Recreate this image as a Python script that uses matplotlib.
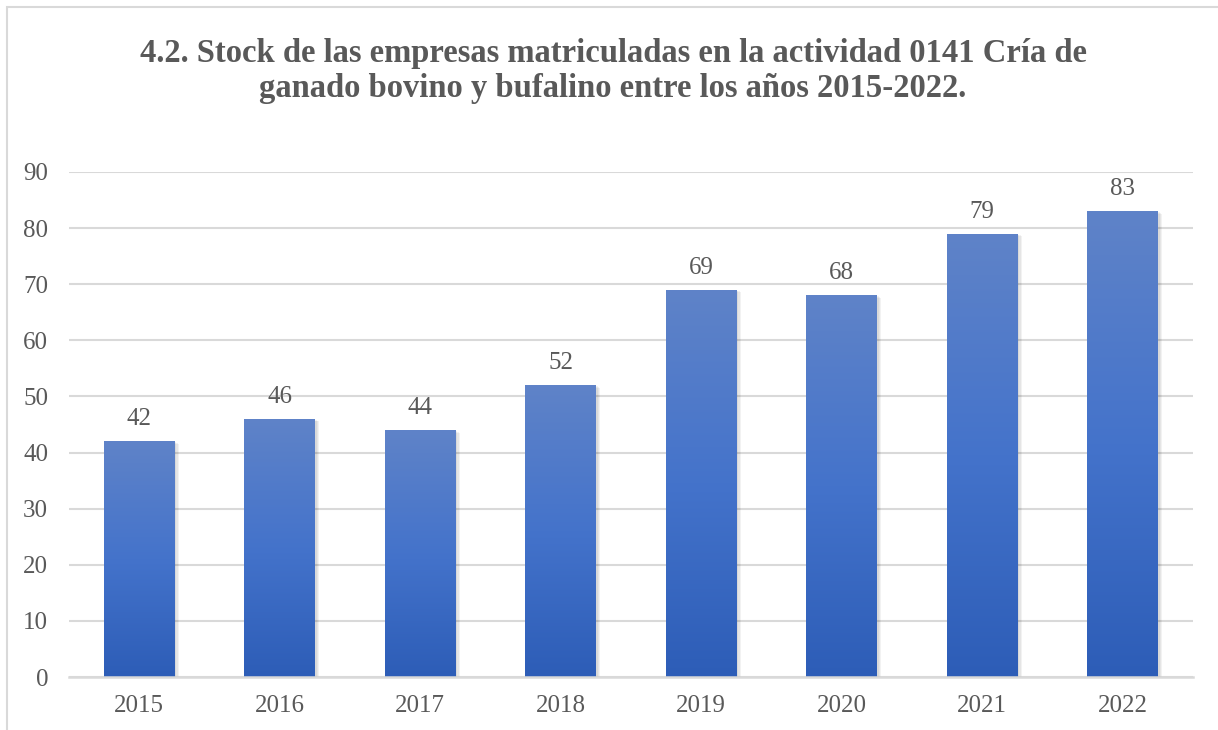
import matplotlib
matplotlib.use("Agg")
import matplotlib.pyplot as plt
import numpy as np
from matplotlib import patheffects as pe
from matplotlib.colors import LinearSegmentedColormap
from matplotlib.patches import Rectangle

years = ["2015", "2016", "2017", "2018", "2019", "2020", "2021", "2022"]
values = [42, 46, 44, 52, 69, 68, 79, 83]
title = ("4.2. Stock de las empresas matriculadas en la actividad 0141 Cría de\n"
         "ganado bovino y bufalino entre los años 2015-2022.")

plt.rcParams['font.family'] = ['Liberation Serif', 'DejaVu Serif']
text_color = "#595959"
grid_color = "#D9D9D9"

fig = plt.figure(figsize=(12.18, 7.30), dpi=100)
fig.patch.set_facecolor("white")

# outer chart border
fig.add_artist(Rectangle((7 / 1218, -0.1), 1.2, 1 - 7 / 730 + 0.1,
                         transform=fig.transFigure, fill=False,
                         edgecolor="#D9D9D9", linewidth=1.5))

ax = fig.add_axes([69 / 1218, 1 - 677 / 730, (1193 - 69) / 1218, (677 - 172) / 730])
x = np.arange(len(years))
shadow = [pe.SimplePatchShadow(offset=(o, -o * 0.6), shadow_rgbFace="#000000", alpha=0.05)
          for o in (1.0, 2.0, 3.0)]
bars = ax.bar(x, values, width=0.505, color="#4472C4", zorder=3,
              path_effects=shadow + [pe.Normal()])

cmap = LinearSegmentedColormap.from_list("g", ["#2D5DB7", "#4473CB", "#5F83C8"])
grad = np.linspace(0, 1, 256).reshape(-1, 1)
for b in bars:
    x0, y0 = b.get_x(), b.get_y()
    w, h = b.get_width(), b.get_height()
    im = ax.imshow(grad, cmap=cmap, origin="lower", aspect="auto",
                   extent=[x0, x0 + w, y0, y0 + h], zorder=4)
    im.set_clip_path(b)

for xi, v in zip(x, values):
    ax.annotate(str(v), (xi, v), xytext=(0, 8), textcoords="offset points",
                ha="center", va="bottom", fontsize=18, color=text_color)

ax.set_xlim(-0.5, len(years) - 0.5)
ax.set_ylim(0, 90)
ax.set_yticks(np.arange(0, 91, 10))
ax.set_xticks(x)
ax.set_xticklabels(years)
ax.tick_params(axis="both", length=0, labelsize=18, labelcolor=text_color)
ax.tick_params(axis="x", pad=13)
ax.tick_params(axis="y", pad=15)
ax.grid(axis="y", color=grid_color, linewidth=1.5, zorder=0)
for s in ["top", "right", "left"]:
    ax.spines[s].set_visible(False)
ax.spines["bottom"].set_color(grid_color)
ax.spines["bottom"].set_linewidth(1.8)
ax.spines["bottom"].set_zorder(5)
ax.set_axisbelow(True)

fig.text(613 / 1218, 1 - 71 / 730, title, ha="center", va="center",
         fontsize=23.5, fontweight="bold", color=text_color, linespacing=1.15)

fig.savefig("out.png", dpi=100)
